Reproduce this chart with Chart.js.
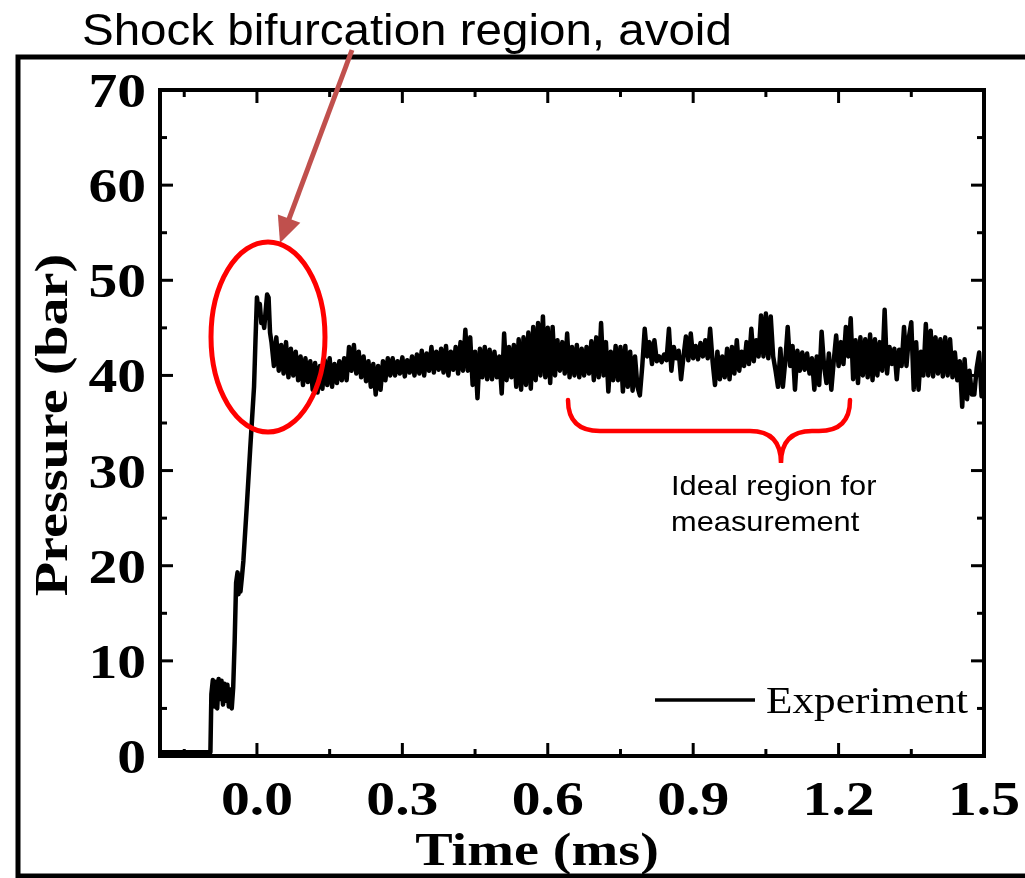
<!DOCTYPE html>
<html>
<head>
<meta charset="utf-8">
<title>Pressure trace</title>
<script src="https://cdn.jsdelivr.net/npm/chart.js@4.4.1/dist/chart.umd.min.js"></script>
<style>
  html, body { margin: 0; padding: 0; background: #fff; }
  canvas { display: block; }
</style>
</head>
<body>
<canvas id="chart" width="1025" height="878"></canvas>
<script>
// shock arrival + rise (ms, bar)
const riseTime = [-0.2, -0.096, -0.094, -0.091, -0.088, -0.085, -0.082, -0.079, -0.076, -0.073,
  -0.070, -0.067, -0.064, -0.061, -0.058, -0.055, -0.052, -0.049, -0.046, -0.043,
  -0.040, -0.038, -0.036, -0.034, -0.031, -0.028, -0.021, -0.014, -0.010, -0.006,
  -0.003, 0.000, 0.003, 0.006, 0.009, 0.012, 0.015, 0.018, 0.021, 0.024, 0.027];
const risePressure = [0.4, 0.4, 6.5, 8.0, 5.2, 7.8, 5.0, 8.1, 6.0, 7.9,
  5.4, 7.6, 5.8, 7.5, 5.2, 7.0, 5.0, 7.2, 12.0, 18.2,
  19.3, 17.0, 19.0, 17.3, 18.8, 20.5, 26.2, 32.2, 35.5, 38.8,
  43.7, 48.2, 46.8, 47.5, 45.5, 46.0, 45.0, 46.8, 48.5, 48.2, 44.5];

// plateau, sampled every 0.005 ms from 0.03 ms
const plateauStart = 0.03;
const plateauStep = 0.005;
const plateauPressure = [
  43.5, 41.0, 44.0, 40.5, 43.2, 40.2, 43.5, 39.8, 42.8, 40.0,
  42.5, 39.5, 42.0, 39.0, 41.8, 39.3, 41.5, 38.5, 41.3, 38.2,
  41.0, 38.6, 41.6, 39.0, 41.8, 38.8, 41.2, 39.2, 41.5, 39.5,
  41.8, 39.5, 43.0, 40.5, 43.2, 40.2, 42.5, 39.8, 42.0, 39.4,
  41.5, 38.8, 41.2, 38.0, 41.0, 38.5, 41.5, 39.5, 41.8, 40.0,
  41.8, 40.0, 41.5, 40.2, 41.9, 39.9, 41.6, 40.3, 42.0, 40.0,
  42.2, 40.2, 42.6, 40.0, 42.3, 40.5, 43.0, 40.3, 42.5, 40.6,
  42.8, 40.3, 43.1, 40.0, 42.5, 40.6, 43.0, 40.2, 43.5, 40.5,
  44.8, 40.5, 44.0, 39.0, 42.5, 37.6, 42.8, 39.8, 43.0, 39.6,
  42.7, 39.6, 42.5, 39.8, 42.0, 38.1, 44.4, 39.5, 43.0, 39.8,
  43.2, 38.8, 43.8, 38.5, 44.0, 39.0, 44.5, 38.6, 45.1, 39.5,
  45.5, 40.0, 46.2, 39.8, 45.0, 39.2, 45.1, 40.0, 43.7, 40.5,
  43.5, 40.2, 44.4, 39.8, 43.0, 40.0, 43.2, 39.8, 42.8, 40.0,
  43.0, 40.2, 43.6, 39.5, 44.0, 39.8, 45.5, 40.0, 43.5, 38.3,
  42.5, 39.5, 43.1, 39.5, 43.0, 38.3, 43.1, 38.8, 42.5, 38.4,
  42.0, 38.8, 37.9, 41.0, 44.9, 42.0, 43.5, 41.2, 43.7, 41.5,
  42.0, 41.4, 42.2, 41.6, 44.9, 40.5, 43.0, 41.8, 42.6, 39.6,
  42.0, 44.1, 41.6, 44.4, 41.8, 43.1, 41.7, 43.4, 42.0, 43.7,
  41.8, 44.9, 41.5, 39.0, 42.5, 39.6, 42.0, 39.8, 42.8, 39.6,
  43.0, 40.2, 43.7, 40.5, 42.5, 41.0, 43.5, 41.2, 44.9, 41.5,
  43.7, 42.0, 46.3, 42.0, 46.5, 41.8, 46.2, 42.0, 40.5, 38.8,
  42.8, 38.8, 41.5, 45.1, 41.0, 43.1, 38.5, 42.6, 40.5, 42.4,
  40.6, 42.3, 40.2, 41.8, 38.5, 42.0, 39.0, 44.6, 41.0, 39.2,
  42.3, 38.5, 41.5, 44.2, 41.0, 43.5, 41.2, 45.1, 42.0, 46.0,
  39.6, 43.7, 39.2, 44.0, 40.0, 43.8, 39.8, 44.3, 39.5, 43.8,
  40.0, 43.5, 40.5, 46.9, 40.2, 43.0, 41.2, 42.8, 39.6, 42.7,
  41.0, 45.1, 41.0, 44.0, 45.6, 38.5, 43.5, 38.5, 42.5, 40.0,
  45.4, 40.0, 44.7, 39.9, 44.0, 40.2, 43.8, 39.9, 44.0, 40.0,
  43.8, 39.8, 42.4, 39.5, 41.5, 36.7, 41.7, 37.5, 40.5, 38.0,
  38.0, 40.8, 42.4, 37.8, 40.0
];

const xTickValues = [0.0, 0.3, 0.6, 0.9, 1.2, 1.5];
const xMinorValues = [-0.15, 0.15, 0.45, 0.75, 1.05, 1.35];
const yTickValues = [0, 10, 20, 30, 40, 50, 60, 70];
const yMinorValues = [5, 15, 25, 35, 45, 55, 65];

const titleText = 'Shock bifurcation region, avoid';
const noteLines = ['Ideal region for', 'measurement'];

const serif = '"Liberation Serif", "Times New Roman", serif';
const sans = '"Liberation Sans", Arial, sans-serif';

const points = riseTime.map((t, i) => ({ x: t, y: risePressure[i] }))
  .concat(plateauPressure.map((p, i) => ({ x: plateauStart + i * plateauStep, y: p })));

// text drawn a bit wider than the font, like the original figure
function wideText(ctx, text, x, y, sx, align) {
  ctx.save();
  ctx.translate(x, y);
  ctx.scale(sx, 1);
  ctx.textAlign = align;
  ctx.textBaseline = 'alphabetic';
  ctx.fillText(text, 0, 0);
  ctx.restore();
}

const decorPlugin = {
  id: 'decor',
  afterDraw(chart) {
    const { ctx, chartArea: a, scales: { x, y } } = chart;
    ctx.save();
    ctx.strokeStyle = '#000';
    ctx.fillStyle = '#000';

    // outer frame
    ctx.lineWidth = 5;
    ctx.strokeRect(18, 57, 1100, 819);

    // plot box
    ctx.lineWidth = 4;
    ctx.strokeRect(a.left, a.top, a.right - a.left, a.bottom - a.top);

    // inward ticks
    ctx.lineWidth = 3;
    const tick = (x1, y1, x2, y2) => { ctx.beginPath(); ctx.moveTo(x1, y1); ctx.lineTo(x2, y2); ctx.stroke(); };
    yTickValues.forEach(v => {
      const py = y.getPixelForValue(v);
      tick(a.left, py, a.left + 13, py);
      tick(a.right, py, a.right - 13, py);
    });
    yMinorValues.forEach(v => {
      const py = y.getPixelForValue(v);
      tick(a.left, py, a.left + 7, py);
      tick(a.right, py, a.right - 7, py);
    });
    xTickValues.forEach(v => {
      const px = x.getPixelForValue(v);
      tick(px, a.bottom, px, a.bottom - 13);
      tick(px, a.top, px, a.top + 13);
    });
    xMinorValues.forEach(v => {
      const px = x.getPixelForValue(v);
      tick(px, a.bottom, px, a.bottom - 7);
      tick(px, a.top, px, a.top + 7);
    });

    // tick labels
    ctx.font = 'bold 48px ' + serif;
    yTickValues.forEach(v => {
      wideText(ctx, String(v), a.left - 14, y.getPixelForValue(v) + 17, 1.2, 'right');
    });
    xTickValues.forEach(v => {
      wideText(ctx, v.toFixed(1), x.getPixelForValue(v), 815, 1.2, 'center');
    });

    // axis titles
    ctx.font = 'bold 46px ' + serif;
    wideText(ctx, 'Time (ms)', 537, 865, 1.22, 'center');
    ctx.save();
    ctx.translate(67, 425);
    ctx.rotate(-Math.PI / 2);
    wideText(ctx, 'Pressure (bar)', 0, 0, 1.22, 'center');
    ctx.restore();

    // legend
    const ds = chart.data.datasets[0];
    ctx.lineWidth = 3.5;
    tick(655, 700, 755, 700);
    ctx.font = '38px ' + serif;
    wideText(ctx, ds.label, 766, 713, 1.14, 'left');

    // title
    ctx.font = '44px ' + sans;
    wideText(ctx, titleText, 82, 45, 1.08, 'left');

    // arrow to the bifurcation peak
    ctx.strokeStyle = '#c0504d';
    ctx.fillStyle = '#c0504d';
    ctx.lineWidth = 5;
    const x0 = 352, y0 = 50, x1 = 280, y1 = 243;
    const ang = Math.atan2(y1 - y0, x1 - x0);
    const head = 26;
    ctx.beginPath();
    ctx.moveTo(x0, y0);
    ctx.lineTo(x1 - Math.cos(ang) * head * 0.8, y1 - Math.sin(ang) * head * 0.8);
    ctx.stroke();
    ctx.beginPath();
    ctx.moveTo(x1, y1);
    ctx.lineTo(x1 - Math.cos(ang) * head + Math.sin(ang) * 12, y1 - Math.sin(ang) * head - Math.cos(ang) * 12);
    ctx.lineTo(x1 - Math.cos(ang) * head - Math.sin(ang) * 12, y1 - Math.sin(ang) * head + Math.cos(ang) * 12);
    ctx.closePath();
    ctx.fill();

    // ellipse round the peak
    ctx.strokeStyle = '#ff0000';
    ctx.lineWidth = 5;
    ctx.beginPath();
    ctx.ellipse(268, 337, 57, 95, 0, 0, Math.PI * 2);
    ctx.stroke();

    // brace under the steady part
    ctx.lineWidth = 4.5;
    ctx.lineCap = 'round';
    ctx.beginPath();
    ctx.moveTo(568, 400);
    ctx.quadraticCurveTo(568, 431, 600, 431);
    ctx.lineTo(750, 431);
    ctx.quadraticCurveTo(781, 431, 781, 463);
    ctx.quadraticCurveTo(781, 431, 812, 431);
    ctx.lineTo(819, 431);
    ctx.quadraticCurveTo(850, 431, 850, 400);
    ctx.stroke();

    ctx.fillStyle = '#000';
    ctx.font = '28px ' + sans;
    wideText(ctx, noteLines[0], 671, 495, 1.1, 'left');
    wideText(ctx, noteLines[1], 671, 531, 1.1, 'left');
    ctx.restore();
  }
};

new Chart(document.getElementById('chart'), {
  type: 'line',
  data: {
    datasets: [{
      label: 'Experiment',
      data: points,
      borderColor: '#000',
      borderWidth: 4.5,
      borderJoinStyle: 'round',
      borderCapStyle: 'round',
      pointRadius: 0,
      tension: 0,
      fill: false
    }]
  },
  options: {
    responsive: false,
    animation: false,
    layout: { padding: { left: 0, top: 90, right: 41, bottom: 0 } },
    plugins: {
      legend: { display: false },
      tooltip: { enabled: false }
    },
    scales: {
      x: {
        type: 'linear',
        min: -0.2,
        max: 1.5,
        grid: { display: false, drawTicks: false },
        border: { display: false },
        ticks: { display: false },
        afterBuildTicks: s => { s.ticks = xTickValues.map(v => ({ value: v })); },
        afterFit: s => { s.height = 122; }
      },
      y: {
        min: 0,
        max: 70,
        grid: { display: false, drawTicks: false },
        border: { display: false },
        ticks: { display: false, stepSize: 10 },
        afterFit: s => { s.width = 160; }
      }
    }
  },
  plugins: [decorPlugin]
});
</script>
</body>
</html>
